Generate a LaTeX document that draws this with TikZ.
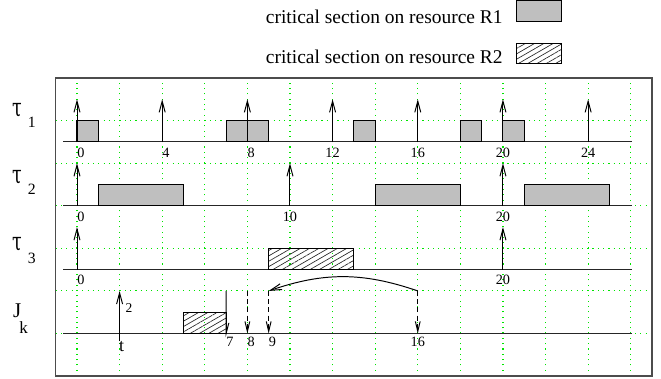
\documentclass[tikz,border=0pt]{standalone}
\usepackage{fontspec}
\setmainfont{Liberation Serif}
\newfontfamily\grkfont{DejaVu Serif}
\usetikzlibrary{arrows.meta,patterns.meta}
\definecolor{gridgreen}{RGB}{0,230,0}
\definecolor{boxgray}{RGB}{191,191,191}
\tikzset{
  gridline/.style={draw=gridgreen, line width=0.75pt, dash pattern=on 0.75pt off 2.8pt},
  outerframe/.style={draw=black!70, line width=1pt},
  axisline/.style={draw=black!85, line width=0.8pt},
  r1box/.style={draw=black, line width=0.7pt, fill=boxgray},
  r2box/.style={draw=black, line width=0.7pt, pattern={Lines[angle=30,distance=3.1pt,line width=0.45pt]}, pattern color=black!85},
  release/.style={draw=black, line width=0.65pt, -{Straight Barb[length=7.5pt,width=4pt]}},
  smallarrow/.style={draw=black, line width=0.65pt, -{Straight Barb[length=6.7pt,width=3.2pt]}},
  dashedarrow/.style={smallarrow, dash pattern=on 3.3pt off 2.2pt},
  plainline/.style={draw=black, line width=0.65pt},
  ticklbl/.style={inner sep=0pt, font=\fontsize{9.5}{10}\selectfont},
  greek/.style={inner sep=0pt, font=\grkfont\fontsize{13}{13}\selectfont},
  sublbl/.style={inner sep=0pt, font=\fontsize{10.5}{11}\selectfont},
  legendtxt/.style={inner sep=0pt, font=\fontsize{13}{14}\selectfont},
}
\begin{document}
\begin{tikzpicture}[x=0.5cm,y=0.5cm]
\useasboundingbox (-3.615,-14.13) rectangle (27.42,3.66);

% grid and frame
\draw[gridline] (-1,0) grid (27,-14);
\draw[outerframe] (-1,0) rectangle (27,-14);

% legend
\node[legendtxt, anchor=base east] (leg1) at (20,2.57) {critical section on resource R1};
\node[legendtxt, anchor=base east] (leg2) at (20,0.69) {critical section on resource R2};
\path[r1box] (20.65,3.62) rectangle (22.75,2.64);
\path[r2box] (20.65,1.63) rectangle (22.75,0.69);

% row labels
\node[greek] (tau1) at (-2.82,-1.5) {\scalebox{0.9}[1.3]{τ}};
\node[sublbl] (sub1) at (-2.12,-2.07) {1};
\node[greek] (tau2) at (-2.82,-4.65) {\scalebox{0.9}[1.3]{τ}};
\node[sublbl] (sub2) at (-2.12,-5.22) {2};
\node[greek] (tau3) at (-2.82,-7.8) {\scalebox{0.9}[1.3]{τ}};
\node[sublbl] (sub3) at (-2.12,-8.45) {3};
\node[inner sep=0pt, font=\fontsize{14}{14}\selectfont] (jJ) at (-2.81,-10.91) {J};
\node[inner sep=0pt, font=\fontsize{11.4}{12}\selectfont] (jk) at (-2.5,-11.71) {k};

% time axes
\foreach \r/\y in {1/-3,2/-6,3/-9,4/-12} {
  \coordinate (axl\r) at (-0.64,\y);
  \coordinate (axr\r) at (26.05,\y);
  \draw[axisline] (axl\r) -- (axr\r);
}

% ---- tau 1 ----
\foreach \a/\b in {0/1,7/9,13/14,18/19,20/21} {
  \path[r1box] (\a,-3) rectangle (\b,-2);
}
\foreach \t in {0,4,...,24} {
  \coordinate (ra\t) at (\t,-3);
  \coordinate (rb\t) at (\t,-1);
  \draw[release] (ra\t) -- (rb\t);
}
\foreach \t in {0,4,8} {
  \node[ticklbl, anchor=north west] (la\t) at (\t,-3.26) {\t};
}
\foreach \t in {12,16,20,24} {
  \node[ticklbl, anchor=north] (la\t) at (\t,-3.26) {\t};
}

% ---- tau 2 ----
\foreach \a/\b in {1/5,14/18,21/25} {
  \path[r1box] (\a,-6) rectangle (\b,-5);
}
\foreach \t in {0,10,20} {
  \coordinate (sa\t) at (\t,-6);
  \coordinate (sb\t) at (\t,-4);
  \draw[release] (sa\t) -- (sb\t);
}
\node[ticklbl, anchor=north west] (lb0) at (0,-6.26) {0};
\node[ticklbl, anchor=north] (lb10) at (10,-6.26) {10};
\node[ticklbl, anchor=north] (lb20) at (20,-6.26) {20};

% ---- tau 3 ----
\path[r2box] (9,-9) rectangle (13,-8);
\foreach \t in {0,20} {
  \coordinate (ua\t) at (\t,-9);
  \coordinate (ub\t) at (\t,-7);
  \draw[release] (ua\t) -- (ub\t);
}
\node[ticklbl, anchor=north west] (lc0) at (0,-9.26) {0};
\node[ticklbl, anchor=north] (lc20) at (20,-9.26) {20};

% ---- J_k ----
\path[r2box] (5,-12) rectangle (7,-11);
\node[inner sep=0pt, font=\fontsize{12}{12}\selectfont, anchor=north] (tl) at (2.1,-12.36) {t};
\coordinate (arrtop) at (2,-10);
\draw[release] (tl.north -| arrtop) -- (arrtop);
\node[inner sep=0pt, font=\fontsize{9}{9}\selectfont] (two) at (2.44,-10.82) {2};

\coordinate (v7t) at (7,-10);
\coordinate (v7b) at (7,-12);
\coordinate (v7s) at (7.13,-11.5);
\draw[plainline] (v7t) -- (v7b) -- (v7s);

\foreach \t in {8,9,16} {
  \coordinate (wa\t) at (\t,-10);
  \coordinate (wb\t) at (\t,-12);
  \draw[dashedarrow] (wa\t) -- (wb\t);
}
\draw[release] (wa16) to[bend right=19] (wa9);

\foreach \t in {7,8,9} {
  \node[ticklbl, anchor=north west] (ld\t) at (\t,-12.17) {\t};
}
\node[ticklbl, anchor=north] (ld16) at (16,-12.17) {16};
\end{tikzpicture}
\end{document}
